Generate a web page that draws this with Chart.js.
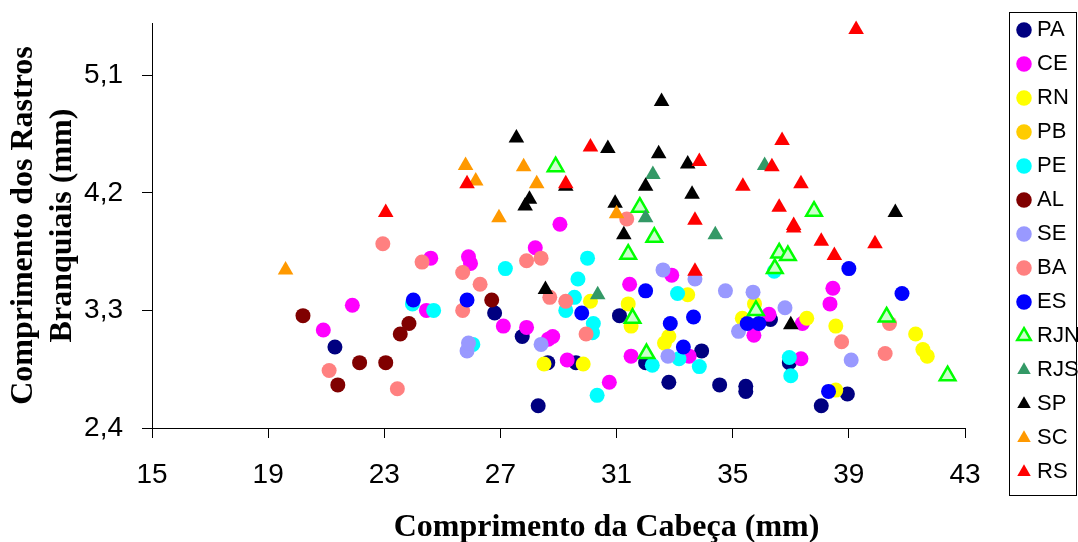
<!DOCTYPE html>
<html>
<head>
<meta charset="utf-8">
<script src="https://cdn.jsdelivr.net/npm/chart.js@4.4.1/dist/chart.umd.min.js"></script>
<style>
  html, body { margin: 0; padding: 0; background: #fff; }
  canvas { display: block; }
</style>
</head>
<body>
<canvas id="myChart" width="1078" height="542"></canvas>
<script>
//=================== data ===================//
var seriesNames = ['PA', 'CE', 'RN', 'PB', 'PE', 'AL', 'SE', 'BA', 'ES', 'RJN', 'RJS', 'SP', 'SC', 'RS'];

var paX = [21.3, 26.8, 27.75, 28.3, 28.63, 29.6, 31.1, 32.0, 32.8, 33.93, 34.55, 35.45, 35.45, 36.3, 36.95, 38.05, 38.95];
var paY = [3.02, 3.28, 3.10, 2.57, 2.90, 2.90, 3.26, 2.90, 2.75, 2.99, 2.73, 2.72, 2.68, 3.23, 2.90, 2.57, 2.66];

var ceX = [20.9, 21.9, 24.45, 24.6, 25.9, 25.97, 27.1, 27.9, 28.2, 28.65, 28.8, 29.05, 29.3, 30.75, 31.45, 31.5, 32.9, 33.5, 35.73, 36.25, 37.35, 37.4, 38.35, 38.45];
var ceY = [3.15, 3.34, 3.30, 3.70, 3.71, 3.66, 3.18, 3.17, 3.78, 3.08, 3.10, 3.96, 2.92, 2.75, 3.50, 2.95, 3.57, 2.95, 3.11, 3.27, 2.93, 3.20, 3.35, 3.47];

var rnX = [28.5, 29.85, 30.1, 31.4, 31.5, 32.65, 32.8, 33.45, 35.33, 35.75, 37.55, 38.55, 38.55, 41.3, 41.55, 41.7];
var rnY = [2.89, 2.89, 3.37, 3.35, 3.18, 3.05, 3.10, 3.42, 3.24, 3.35, 3.24, 3.18, 2.69, 3.12, 3.00, 2.95];

var pbX = [];
var pbY = [];

var peX = [23.97, 24.7, 26.05, 27.17, 29.25, 29.55, 29.67, 30.0, 30.17, 30.2, 30.33, 32.23, 33.1, 33.15, 33.85, 36.43, 36.95, 37.0];
var peY = [3.35, 3.30, 3.04, 3.62, 3.30, 3.40, 3.54, 3.70, 3.13, 3.20, 2.65, 2.88, 3.43, 2.93, 2.87, 3.60, 2.94, 2.80];

var alX = [20.2, 21.4, 22.15, 23.05, 23.55, 23.85, 26.7];
var alY = [3.26, 2.73, 2.90, 2.90, 3.12, 3.20, 3.38];

var seX = [25.85, 25.9, 28.4, 32.6, 32.77, 33.7, 34.75, 35.2, 35.7, 36.8, 39.08];
var seY = [2.99, 3.05, 3.04, 3.61, 2.95, 3.54, 3.45, 3.14, 3.44, 3.32, 2.92];

var baX = [21.1, 22.95, 23.45, 24.3, 25.7, 25.7, 26.3, 27.9, 28.4, 28.7, 29.25, 29.95, 31.35, 38.75, 40.25, 40.4];
var baY = [2.84, 3.81, 2.70, 3.67, 3.59, 3.30, 3.50, 3.68, 3.70, 3.40, 3.37, 3.12, 4.00, 3.06, 2.97, 3.20];

var esX = [24.0, 25.85, 29.8, 32.0, 32.85, 33.3, 33.65, 35.5, 35.9, 38.3, 39.0, 40.83];
var esY = [3.38, 3.38, 3.28, 3.45, 3.20, 3.02, 3.25, 3.20, 3.20, 2.68, 3.62, 3.43];

var rjnX = [28.9, 31.4, 31.55, 31.8, 32.03, 32.3, 35.8, 36.45, 36.6, 36.9, 37.8, 40.3, 42.4];
var rjnY = [4.40, 3.73, 3.24, 4.09, 2.97, 3.86, 3.30, 3.62, 3.74, 3.72, 4.06, 3.25, 2.80];

var rjsX = [30.35, 32.0, 32.25, 34.4, 36.1];
var rjsY = [3.42, 4.01, 4.34, 3.88, 4.41];

var spX = [27.55, 27.85, 28.0, 28.55, 29.25, 30.7, 30.95, 31.25, 32.0, 32.45, 32.55, 33.45, 33.6, 37.0, 40.6];
var spY = [4.62, 4.10, 4.15, 3.46, 4.25, 4.54, 4.12, 3.88, 4.25, 4.50, 4.90, 4.42, 4.19, 3.19, 4.05];

var scX = [19.6, 25.8, 26.15, 26.95, 27.8, 28.25, 31.0];
var scY = [3.61, 4.41, 4.29, 4.01, 4.40, 4.27, 4.04];

var rsX = [23.05, 25.85, 29.25, 30.1, 33.7, 33.85, 33.7, 35.35, 36.35, 36.6, 36.7, 37.1, 37.1, 37.35, 38.05, 38.5, 39.25, 39.9];
var rsY = [4.05, 4.27, 4.27, 4.55, 3.99, 4.44, 3.60, 4.25, 4.40, 4.09, 4.60, 3.95, 3.93, 4.27, 3.83, 3.72, 5.45, 3.81];

var xTicks = [15, 19, 23, 27, 31, 35, 39, 43];
var yTicks = [2.4, 3.3, 4.2, 5.1];
var yTickLabels = ['2,4', '3,3', '4,2', '5,1'];

//=================== styles ===================//
var allX = [paX, ceX, rnX, pbX, peX, alX, seX, baX, esX, rjnX, rjsX, spX, scX, rsX];
var allY = [paY, ceY, rnY, pbY, peY, alY, seY, baY, esY, rjnY, rjsY, spY, scY, rsY];
var fillColors = ['#000080', '#FF00FF', '#FFFF00', '#FFCC00', '#00FFFF', '#800000', '#9999FF', '#FF8080', '#0000FF', '#CCFFCC', '#339966', '#000000', '#FF9900', '#FF0000'];
var lineColors = ['#000080', '#FF00FF', '#FFFF00', '#FFCC00', '#00FFFF', '#800000', '#9999FF', '#FF8080', '#0000FF', '#00FF00', '#339966', '#000000', '#FF9900', '#FF0000'];

var datasets = seriesNames.map(function(name, i) {
  var tri = i >= 9;
  return {
    label: name,
    data: allX[i].map(function(x, j) { return {x: x, y: allY[i][j]}; }),
    xAxisID: 'x',
    yAxisID: 'y',
    pointStyle: tri ? 'triangle' : 'circle',
    pointRadius: tri ? 9 : 7.5,
    pointHoverRadius: tri ? 9 : 7.5,
    backgroundColor: fillColors[i],
    borderColor: lineColors[i],
    borderWidth: name === 'RJN' ? 2.5 : 0,
    order: seriesNames.length - i,   // later series on top, like the original
    clip: false
  };
});

// frame around the legend
var legendFrame = {
  id: 'legendFrame',
  afterDraw: function(chart) {
    var l = chart.legend;
    var ctx = chart.ctx;
    ctx.save();
    ctx.strokeStyle = '#000';
    ctx.lineWidth = 1;
    ctx.strokeRect(l.left - 0.5, l.top + 5.5, l.width - 1, 483);
    ctx.restore();
  }
};

var sans = 'Liberation Sans, Arial, sans-serif';
var serif = 'Liberation Serif, Times New Roman, serif';

var ctx = document.getElementById('myChart').getContext('2d');
new Chart(ctx, {
  type: 'scatter',
  data: { datasets: datasets },
  plugins: [legendFrame],
  options: {
    responsive: false,
    animation: false,
    events: [],
    layout: { padding: { top: 7, right: 0, bottom: 0, left: 0 } },
    plugins: {
      tooltip: { enabled: false },
      legend: {
        position: 'right',
        align: 'start',
        maxWidth: 68,
        labels: {
          usePointStyle: true,
          boxWidth: 4,
          boxHeight: 11,
          padding: 12,
          color: '#000',
          font: { family: sans, size: 22 },
          sort: function(a, b) { return a.datasetIndex - b.datasetIndex; }
        }
      }
    },
    scales: {
      x: {
        type: 'linear',
        position: 'bottom',
        min: 15,
        max: 43,
        afterBuildTicks: function(s) { s.ticks = xTicks.map(function(v) { return {value: v}; }); },
        afterFit: function(s) { s.height = 114; },
        ticks: { color: '#000', font: { family: sans, size: 28 }, padding: 20, maxRotation: 0, autoSkip: false },
        grid: { display: true, drawOnChartArea: false, drawTicks: true, tickLength: 10, color: '#000' },
        border: { display: true, color: '#000', width: 1 },
        title: {
          display: true,
          text: '            Comprimento da Cabeça (mm)',
          color: '#000',
          font: { family: serif, size: 32, weight: 'bold', lineHeight: 0.9 },
          padding: { top: 0, bottom: 0 }
        }
      },
      x2: {
        type: 'linear',
        position: 'top',
        afterFit: function(s) { s.height = 16; },
        ticks: { display: false },
        grid: { display: false },
        border: { display: false }
      },
      y: {
        type: 'linear',
        position: 'left',
        min: 2.4,
        max: 5.5,
        afterBuildTicks: function(s) { s.ticks = yTicks.map(function(v) { return {value: v}; }); },
        afterFit: function(s) {
          s.width = 152;
          s.paddingTop = 0;      // label padding would otherwise push the plot down
          s.paddingBottom = 0;
        },
        ticks: {
          color: '#000',
          font: { family: sans, size: 28 },
          padding: 19,
          callback: function(v) { return yTickLabels[yTicks.indexOf(v)]; }
        },
        grid: { display: true, drawOnChartArea: false, drawTicks: true, tickLength: 10, color: '#000' },
        border: { display: true, color: '#000', width: 1 },
        title: {
          display: true,
          text: ['Comprimento dos Rastros', 'Branquiais (mm)'],
          color: '#000',
          font: { family: serif, size: 32, weight: 'bold', lineHeight: 1.2 },
          padding: { top: 5, bottom: 0 }
        }
      },
      y2: {
        type: 'linear',
        position: 'right',
        afterFit: function(s) { s.width = 45; },
        ticks: { display: false },
        grid: { display: false },
        border: { display: false }
      }
    }
  }
});
</script>
</body>
</html>
